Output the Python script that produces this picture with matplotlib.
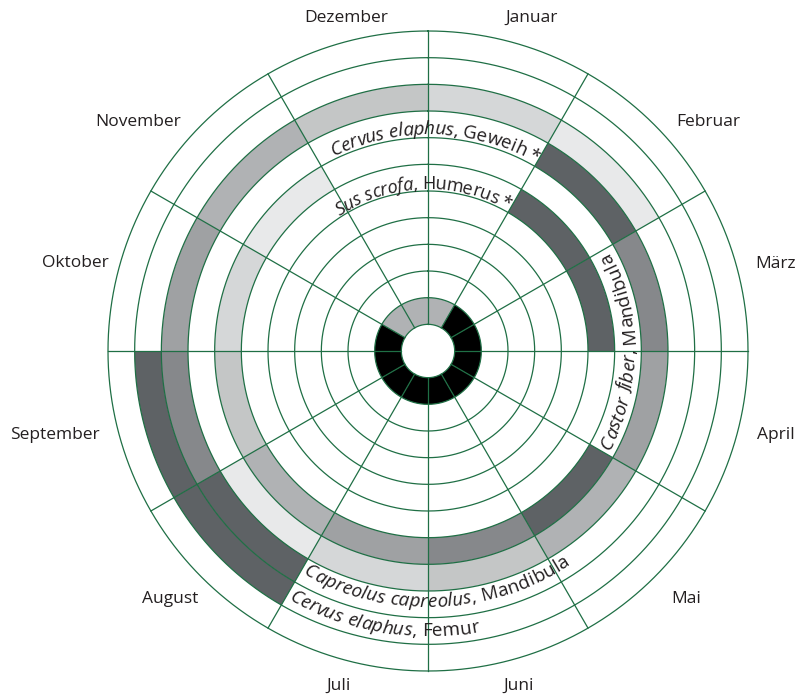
import numpy as np
import matplotlib
matplotlib.use("Agg")
import matplotlib.pyplot as plt
from matplotlib import font_manager as fm

try:
    from matplotlib.ft2font import LoadFlags
    NOH = LoadFlags.NO_HINTING
except ImportError:
    from matplotlib.ft2font import LOAD_NO_HINTING as NOH

# ---------------- data ----------------
months = ["Januar", "Februar", "März", "April", "Mai", "Juni",
          "Juli", "August", "September", "Oktober", "November", "Dezember"]

# shade levels 0 (white) .. 8 (black), one value per month (Jan..Dez)
center_ring = [4, 8, 8, 8, 8, 8, 8, 8, 8, 8, 4, 4]
sus_scrofa_humerus = [0, 7, 7, 0, 0, 0, 0, 0, 0, 0, 0, 0]
castor_fiber_mandibula = [0, 0, 0, 0, 7, 6, 5, 4, 3, 2, 1, 0]
cervus_elaphus_geweih = [0, 7, 6, 5, 4, 3, 2, 1, 0, 0, 0, 0]
capreolus_mandibula = [2, 1, 0, 0, 0, 0, 0, 7, 6, 5, 4, 3]
cervus_elaphus_femur = [0, 0, 0, 0, 0, 0, 0, 7, 7, 0, 0, 0]

# ring index (inner radius in ring units) of each band
bands = [(1, center_ring), (6, sus_scrofa_humerus), (7, castor_fiber_mandibula),
         (8, cervus_elaphus_geweih), (9, capreolus_mandibula), (10, cervus_elaphus_femur)]

shades = ["#ffffff", "#e8e9ea", "#d5d7d8", "#c4c6c6", "#b0b2b4",
          "#9fa1a3", "#86888b", "#5e6265", "#000000"]

# ---------------- styling ----------------
GRID = "#1f6f45"
TXT = "#231f20"
N_CIRCLES = 12


def pick_family():
    for fam in ["Open Sans", "Noto Sans", "Lato", "DejaVu Sans"]:
        try:
            p = fm.findfont(fm.FontProperties(family=fam, style="italic"),
                            fallback_to_default=False)
            if "italic" in p.lower() or "oblique" in p.lower():
                return fam
        except Exception:
            pass
    return "DejaVu Sans"


FAMILY = pick_family()

fig = plt.figure(figsize=(7.96, 6.95), dpi=100)
ax = fig.add_axes([108 / 796, 24 / 695, 640 / 796, 640 / 695], projection="polar")
ax.set_theta_zero_location("N")
ax.set_theta_direction(-1)
ax.set_ylim(0, N_CIRCLES)
ax.grid(False)
ax.set_xticks([])
ax.set_yticks([])
ax.spines["polar"].set_visible(False)

width = 2 * np.pi / 12
theta_starts = np.arange(12) * width

for ring, levels in bands:
    cols = [shades[v] for v in levels]
    ax.bar(theta_starts, 1, width=width, bottom=ring, align="edge",
           color=cols, edgecolor="none", linewidth=0, zorder=1)

# circles
tt = np.linspace(0, 2 * np.pi, 1441)
for k in range(1, N_CIRCLES + 1):
    ax.plot(tt, np.full_like(tt, k), color=GRID, lw=0.9, zorder=3, clip_on=False)
# radial lines
for th in theta_starts:
    ax.plot([th, th], [1, N_CIRCLES], color=GRID, lw=0.9, zorder=3, clip_on=False)

# month labels (layout positions)
label_angle = [17.2, 50.7, 76.0, 103.6, 133.9, 164.8, 195.0, 226.1, 257.3, 284.0, 308.3, 346.2]
label_radius = [13.07, 13.56, 13.45, 13.42, 13.42, 13.02, 13.01, 13.42, 14.34, 13.64, 13.86, 12.86]
for name, a, r in zip(months, label_angle, label_radius):
    ax.text(np.deg2rad(a), r, name, ha="center", va="center", fontsize=12.5,
            family=FAMILY, color=TXT)

PX_PER_UNIT = 320 / N_CIRCLES


def curved_label(segments, r_base, anchor, align, direction, fontsize=13.6):
    items = []
    x = 0.0
    for text, style in segments:
        prop = fm.FontProperties(family=FAMILY, style=style, size=fontsize)
        font = fm.get_font(fm.findfont(prop))
        font.set_size(fontsize, 72)
        for c in text:
            g = font.load_char(ord(c), flags=NOH)
            adv = g.linearHoriAdvance / 65536.0
            items.append((c, prop, x + adv / 2))
            x += adv
    total = x
    r_mid = r_base + (0.25 if direction == "cw" else -0.25)
    dpp = (100 / 72) / (r_mid * PX_PER_UNIT) * 180 / np.pi
    tot_deg = total * dpp
    if direction == "cw":
        start = {"start": anchor, "center": anchor - tot_deg / 2, "end": anchor - tot_deg}[align]
    else:
        start = {"start": anchor, "center": anchor + tot_deg / 2, "end": anchor + tot_deg}[align]
    for c, prop, off in items:
        if c == " ":
            continue
        if direction == "cw":
            phi = start + off * dpp
            rot = -phi
        else:
            phi = start - off * dpp
            rot = 180 - phi
        ax.text(np.deg2rad(phi), r_base, c, fontproperties=prop, rotation=rot,
                rotation_mode="anchor", ha="center", va="baseline", color=TXT, zorder=5)


curved_label([("Cervus elaphus", "italic"), (", Geweih", "normal"), ("\u2009*", "normal")],
             8.12, 29.6, "end", "cw")
curved_label([("Sus scrofa", "italic"), (", Humerus", "normal"), ("\u2009*", "normal")],
             6.07, 29.2, "end", "cw", fontsize=13.1)
curved_label([("Castor fiber", "italic"), (", Mandibula", "normal")],
             7.76, 90.0, "center", "ccw")
curved_label([("Capreolus capreolus", "italic"), (", Mandibula", "normal")],
             9.6, 209.3, "start", "ccw")
curved_label([("Cervus elaphus", "italic"), (", Femur", "normal")],
             10.7, 209.3, "start", "ccw")

fig.savefig("out.png", dpi=100, facecolor="white")
